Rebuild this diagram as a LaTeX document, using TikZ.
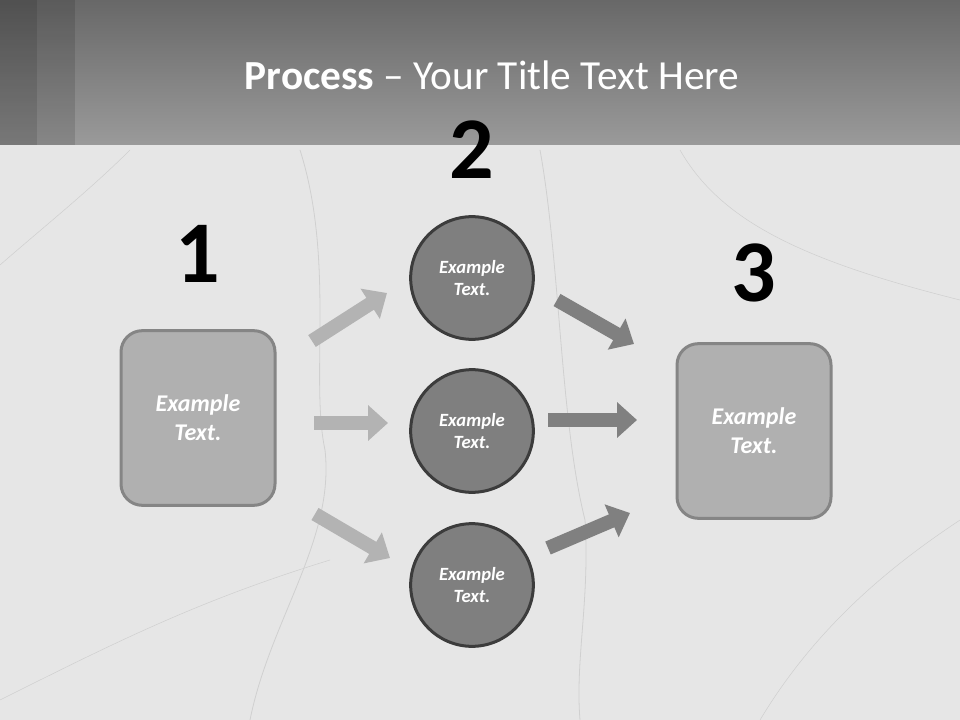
\documentclass[tikz,border=0pt]{standalone}
\usepackage{fontspec}
\setmainfont{Carlito}
\usetikzlibrary{arrows.meta}

\definecolor{marble}{HTML}{E6E6E6}
\definecolor{vein}{HTML}{D0D0D0}
\definecolor{headtop}{HTML}{686868}
\definecolor{headbot}{HTML}{9A9A9A}
\definecolor{boxfill}{HTML}{B0B0B0}
\definecolor{boxline}{HTML}{858585}
\definecolor{circfill}{HTML}{7F7F7F}
\definecolor{circline}{HTML}{3C3C3C}
\definecolor{lightarrow}{HTML}{B3B3B3}
\definecolor{darkarrow}{HTML}{808080}

\begin{document}
\begin{tikzpicture}[x=0.75pt, y=-0.75pt,
  stepbox/.style={draw=boxline, fill=boxfill, line width=2.25pt, rounded corners=16pt,
    minimum width=115.5pt, minimum height=131pt, text=white, align=center,
    font=\fontsize{18}{21.6}\selectfont\bfseries\itshape},
  stepcircle/.style={circle, draw=circline, fill=circfill, line width=2.25pt,
    minimum size=92pt, inner sep=0pt, text=white, align=center,
    font=\fontsize{14}{17}\selectfont\bfseries\itshape},
  stepnum/.style={font=\fontsize{66}{70}\selectfont\bfseries},
  inarrow/.style={draw=lightarrow, line width=10.5pt, -{Triangle[width=26pt,length=15pt]}},
  outarrow/.style={inarrow, draw=darkarrow}]
  \useasboundingbox (0,0) rectangle (960,720);

  % background and header
  \fill[marble] (0,0) rectangle (960,720);
  \draw[vein, line width=0.6pt] (300,150) .. controls (335,260) and (310,380) .. (325,450)
    .. controls (335,540) and (270,620) .. (250,720);
  \draw[vein, line width=0.6pt] (540,150) .. controls (560,260) and (560,420) .. (585,520)
    .. controls (590,600) and (575,660) .. (580,720);
  \draw[vein, line width=0.4pt] (0,265) .. controls (40,230) and (90,190) .. (130,150);
  \draw[vein, line width=0.4pt] (680,150) .. controls (720,220) and (800,260) .. (960,300);
  \draw[vein, line width=0.4pt] (0,700) .. controls (120,640) and (200,600) .. (330,560);
  \draw[vein, line width=0.4pt] (760,720) .. controls (820,620) and (900,560) .. (960,520);
  \shade[top color=headtop, bottom color=headbot] (0,0) rectangle (960,145);
  \fill[black, opacity=0.22] (0,0) rectangle (37,145);
  \fill[black, opacity=0.12] (37,0) rectangle (75,145);

  \node[text=white, font=\fontsize{31}{37}\selectfont] (title) at (492,75)
    {\textbf{Process} – Your Title Text Here};

  % steps
  \node[stepnum] (n1) at (198,254) {1};
  \node[stepnum] (n2) at (472,150) {2};
  \node[stepnum] (n3) at (754,273) {3};

  \node[stepbox] (start) at (198,418) {Example\\Text.};
  \node[stepcircle] (c1) at (472,278) {Example\\Text.};
  \node[stepcircle] (c2) at (472,431) {Example\\Text.};
  \node[stepcircle] (c3) at (472,585) {Example\\Text.};
  \node[stepbox] (finish) at (754,431) {Example\\Text.};

  % arrows
  \coordinate (a1) at (312,341);
  \coordinate (a1t) at (387,293);
  \coordinate (a2) at (314,423);
  \coordinate (a2t) at (388,423);
  \coordinate (a3) at (315,514);
  \coordinate (a3t) at (390,558);
  \coordinate (b1) at (557,300);
  \coordinate (b1t) at (634,344);
  \coordinate (b2) at (548,420);
  \coordinate (b2t) at (637,420);
  \coordinate (b3) at (548,548);
  \coordinate (b3t) at (630,513);

  \draw[inarrow] (a1) -- (a1t);
  \draw[inarrow] (a2) -- (a2t);
  \draw[inarrow] (a3) -- (a3t);
  \draw[outarrow] (b1) -- (b1t);
  \draw[outarrow] (b2) -- (b2t);
  \draw[outarrow] (b3) -- (b3t);
\end{tikzpicture}
\end{document}
